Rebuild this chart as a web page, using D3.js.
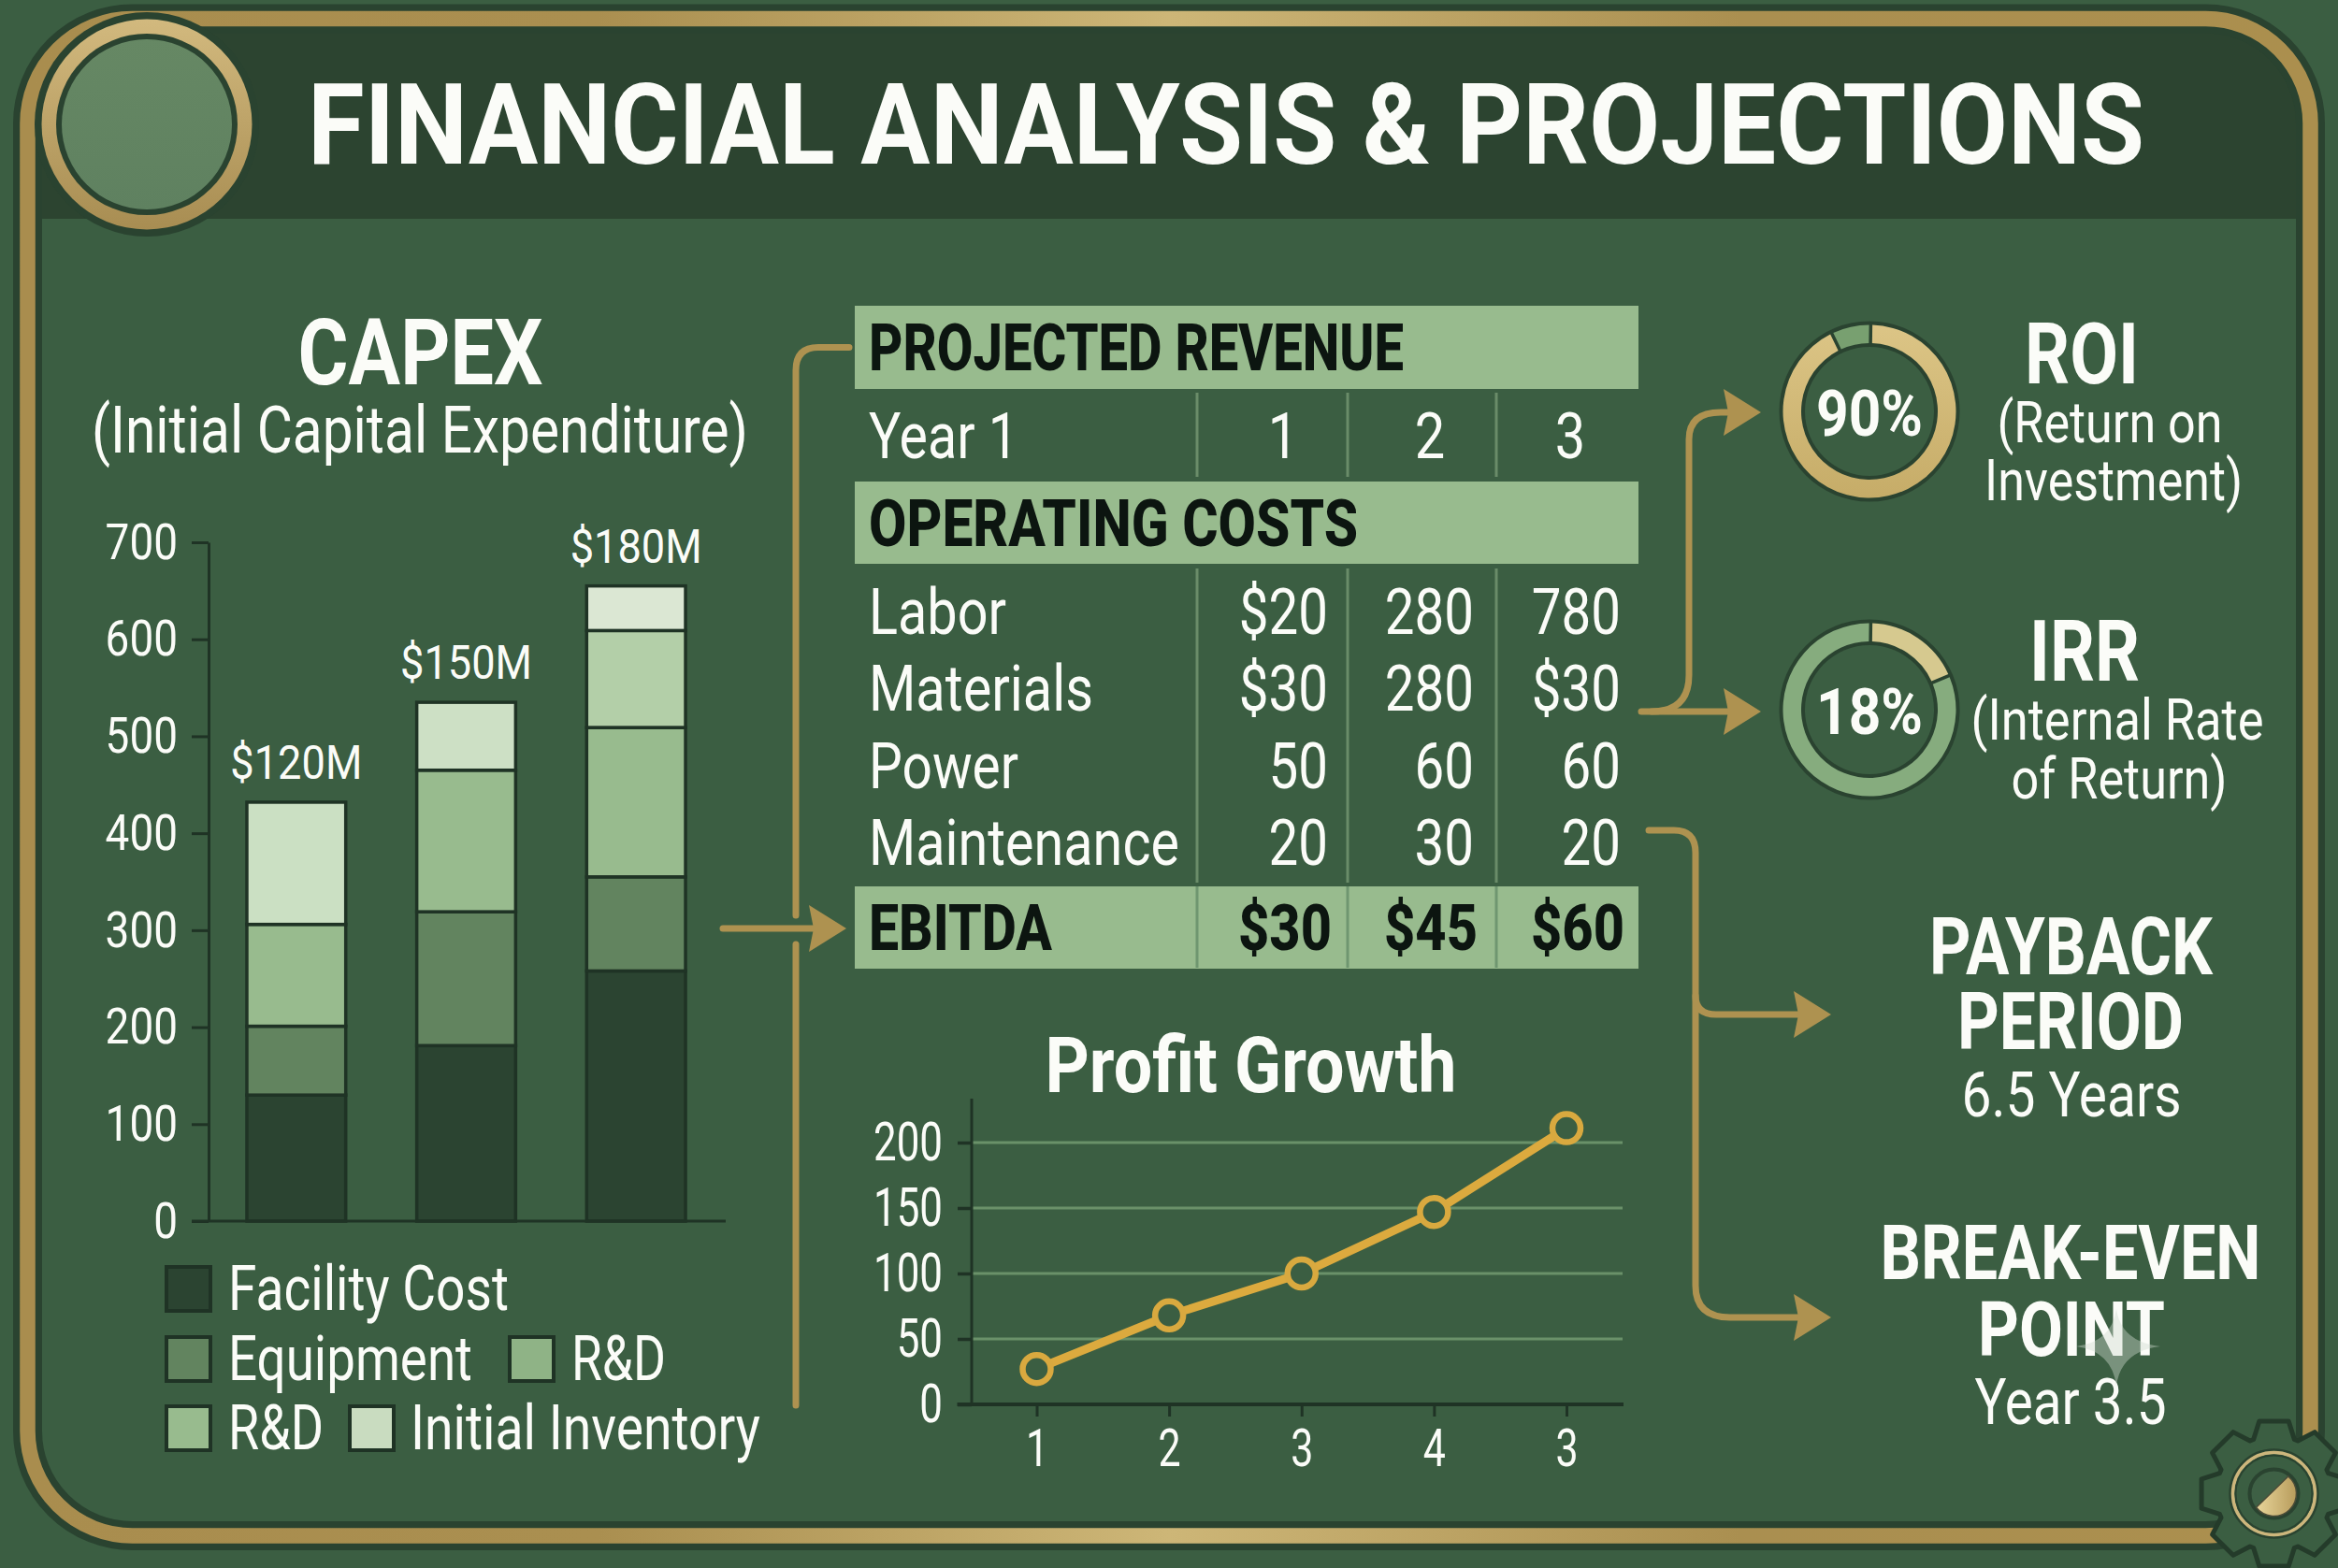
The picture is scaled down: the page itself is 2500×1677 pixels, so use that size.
<!DOCTYPE html>
<html><head><meta charset="utf-8">
<script src="https://cdn.jsdelivr.net/npm/d3@7/dist/d3.min.js"></script>
<style>html,body{margin:0;padding:0;background:#3b5e42}svg{display:block}text{font-family:Roboto,sans-serif}</style>
</head><body><svg id="c" width="2500" height="1677" viewBox="0 0 2500 1677"></svg>
<script>
// ---------- data ----------
const capexYears = ["A", "B", "C"];
const capexTotals = ["$120M", "$150M", "$180M"];
const facilityCost = [130, 181, 258];
const equipment = [71, 138, 97];
const rdFirst = [105, 146, 154];
const rdSecond = [0, 0, 100];
const initialInventory = [126, 70, 46];
const capexTicks = [0, 100, 200, 300, 400, 500, 600, 700];
const legendNames = ["Facility Cost", "Equipment", "R&D", "R&D", "Initial Inventory"];
const yearHeaders = ["1", "2", "3"];
const costRows = ["Labor", "Materials", "Power", "Maintenance"];
const laborValues = ["$20", "280", "780"];
const materialsValues = ["$30", "280", "$30"];
const powerValues = ["50", "60", "60"];
const maintenanceValues = ["20", "30", "20"];
const ebitdaValues = ["$30", "$45", "$60"];
const profitLabels = ["1", "2", "3", "4", "3"];
const profitValues = [27, 68, 100, 147, 211];
const profitTicks = [0, 50, 100, 150, 200];
const roiShares = [93, 7];
const irrShares = [18, 82];

// ---------- colours ----------
const BG = "#3b5e42", HEAD = "#2c4430", EDGE = "#2a4330", GOLD = "#ae9250", INK = "#1f3325", WHITE = "#fbfcf8", BAND = "#98bb8e", BLACK = "#0c1510";
const seriesColors = ["#2b4431", "#62845f", "#98bb8e", "#b3cfa8", "#cde0c5"];

const svg = d3.select("#c");
const defs = svg.append("defs");
function grad(id, stops, x2, y2) {
  const g = defs.append("linearGradient").attr("id", id).attr("x1", 0).attr("y1", 0).attr("x2", x2).attr("y2", y2);
  stops.forEach(([o, c]) => g.append("stop").attr("offset", o).attr("stop-color", c));
}
grad("frameGold", [[0, "#a98d4e"], [.25, "#aa8f50"], [.5, "#cdb677"], [.75, "#aa8f50"], [1, "#ab8f4e"]], 1, 0);
grad("ringGold", [[0, "#d2b97e"], [1, "#a88d52"]], 0, 1);
grad("discGreen", [[0, "#668864"], [1, "#5f8160"]], 0, 1);
grad("roiGold", [[0, "#dcc586"], [1, "#c6ac68"]], 0, 1);
grad("gearGold", [[0, "#e8d59a"], [1, "#b89c5c"]], 1, 0);

// ---------- text helper ----------
function label(parent, str, x, y, size, o = {}) {
  const t = parent.append("text").attr("x", x).attr("y", y).attr("font-size", size)
    .attr("font-weight", o.weight || 400).attr("fill", o.fill || WHITE).attr("text-anchor", o.anchor || "start").text(str);
  if (o.width) t.attr("textLength", o.width).attr("lengthAdjust", "spacingAndGlyphs");
  else if (o.ratio) t.attr("textLength", t.node().getComputedTextLength() * o.ratio).attr("lengthAdjust", "spacingAndGlyphs");
  return t;
}
function squeeze(sel, ratio) {
  sel.each(function () {
    d3.select(this).attr("textLength", this.getComputedTextLength() * ratio).attr("lengthAdjust", "spacingAndGlyphs");
  });
}

// ---------- frame ----------
svg.append("rect").attr("width", 2500).attr("height", 1677).attr("fill", BG);
const frame = { x: 29.5, y: 20, w: 2441, h: 1622.5, r: 112 };
defs.append("clipPath").attr("id", "inside").append("rect").attr("x", frame.x).attr("y", frame.y).attr("width", frame.w).attr("height", frame.h).attr("rx", frame.r);
svg.append("rect").attr("x", 0).attr("y", 0).attr("width", 2500).attr("height", 234).attr("fill", HEAD).attr("clip-path", "url(#inside)");
const frameRect = () => svg.append("rect").attr("x", frame.x).attr("y", frame.y).attr("width", frame.w).attr("height", frame.h).attr("rx", frame.r).attr("fill", "none");
frameRect().attr("stroke", EDGE).attr("stroke-width", 31);
frameRect().attr("stroke", "url(#frameGold)").attr("stroke-width", 16.5);

// header badge
const badge = svg.append("g").attr("transform", "translate(157,133)");
badge.append("circle").attr("r", 120).attr("fill", EDGE);
badge.append("circle").attr("r", 112.5).attr("fill", "url(#ringGold)");
badge.append("circle").attr("r", 97).attr("fill", EDGE);
badge.append("circle").attr("r", 91).attr("fill", "url(#discGreen)");

label(svg, "FINANCIAL ANALYSIS & PROJECTIONS", 329, 175, 121, { weight: 700, width: 1964 });

// ---------- CAPEX ----------
label(svg, "CAPEX", 449.5, 411, 98, { weight: 700, anchor: "middle", width: 262 });
label(svg, "(Initial Capital Expenditure)", 449, 484, 70, { anchor: "middle", width: 702 });

const capexY = d3.scaleLinear().domain([0, 700]).range([1306, 580]);
const capexX = d3.scaleBand().domain(capexYears).range([226, 771]).paddingInner(0.418).paddingOuter(0.209);
const capexRows = capexYears.map((k, i) => ({ k, a: facilityCost[i], b: equipment[i], c: rdFirst[i], d: rdSecond[i], e: initialInventory[i], tag: capexTotals[i] }));
const capexStack = d3.stack().keys(["a", "b", "c", "d", "e"])(capexRows);
const inventoryShades = ["#cbe0c3", "#cde0c5", "#dbe7d3"];

const yAxisG = svg.append("g").attr("transform", "translate(223,0)").call(d3.axisLeft(capexY).tickValues(capexTicks).tickSize(18).tickSizeOuter(0).tickPadding(15));
yAxisG.selectAll("line,path").attr("stroke", INK).attr("stroke-width", 3);
yAxisG.selectAll("text").attr("font-size", 54).attr("fill", WHITE).attr("font-family", "Roboto").call(squeeze, .85);

capexStack.forEach((s, si) => {
  svg.append("g").selectAll("rect").data(s.filter(d => d[1] > d[0])).join("rect")
    .attr("x", d => capexX(d.data.k)).attr("width", capexX.bandwidth())
    .attr("y", d => capexY(d[1])).attr("height", d => capexY(d[0]) - capexY(d[1]))
    .attr("fill", d => si === 4 ? inventoryShades[capexYears.indexOf(d.data.k)] : seriesColors[si])
    .attr("stroke", INK).attr("stroke-width", 3.5);
});
svg.append("line").attr("x1", 205).attr("x2", 776).attr("y1", capexY(0)).attr("y2", capexY(0)).attr("stroke", INK).attr("stroke-width", 3);
capexRows.forEach(r => {
  label(svg, r.tag, capexX(r.k) + capexX.bandwidth() / 2, capexY(r.a + r.b + r.c + r.d + r.e) - 25, 50, { anchor: "middle", width: 141 });
});

// legend
const legendSlots = [
  { sx: 177, tx: 244, y: 1353, w: 300 }, { sx: 177, tx: 244, y: 1428, w: 261 },
  { sx: 544, tx: 611, y: 1428, w: 101 }, { sx: 177, tx: 244, y: 1502, w: 102 }, { sx: 373, tx: 439, y: 1502, w: 374 }];
const legendFills = ["#2b4431", "#62845f", "#8fb386", "#98bb8e", "#c9dcc0"];
legendNames.forEach((n, i) => {
  const s = legendSlots[i];
  svg.append("rect").attr("x", s.sx + 1).attr("y", s.y + 2).attr("width", 47).attr("height", 47).attr("fill", legendFills[i]).attr("stroke", INK).attr("stroke-width", 4);
  label(svg, n, s.tx, s.y + 48, 67, { width: s.w });
});

// ---------- table ----------
const table = svg.append("g");
const bandRow = (y, h) => table.append("rect").attr("x", 914).attr("y", y).attr("width", 838).attr("height", h).attr("fill", BAND);
bandRow(327, 89); bandRow(515, 88); bandRow(948, 88);
const dividerX = [1280, 1441, 1600];
dividerX.forEach(x => {
  [[420, 510], [608, 944]].forEach(([a, b]) => table.append("line").attr("x1", x).attr("x2", x).attr("y1", a).attr("y2", b).attr("stroke", "#6a8c69").attr("stroke-width", 3));
  table.append("line").attr("x1", x).attr("x2", x).attr("y1", 948).attr("y2", 1035).attr("stroke", "#6f9670").attr("stroke-width", 3);
});
label(table, "PROJECTED REVENUE", 929, 396, 70, { weight: 800, fill: BLACK, width: 572 });
label(table, "OPERATING COSTS", 929, 584, 70, { weight: 800, fill: BLACK, width: 523 });
label(table, "Year 1", 929, 490, 68, { width: 160 });
const yearCenters = [1372, 1529, 1679];
yearHeaders.forEach((v, i) => label(table, v, yearCenters[i], 490, 68, { anchor: "middle", ratio: .85 }));
const rowY = d3.scalePoint().domain(costRows).range([678, 925]);
const rowWidths = [147, 240, 160, 332];
const valueRight = [1420, 1576, 1733];
[laborValues, materialsValues, powerValues, maintenanceValues].forEach((vals, r) => {
  label(table, costRows[r], 929, rowY(costRows[r]), 68, { width: rowWidths[r] });
  vals.forEach((v, c) => label(table, v, valueRight[c], rowY(costRows[r]), 68, { anchor: "end", ratio: .83 }));
});
label(table, "EBITDA", 929, 1016, 68, { weight: 800, fill: BLACK, width: 196 });
ebitdaValues.forEach((v, c) => label(table, v, valueRight[c] + 4, 1016, 68, { weight: 800, fill: BLACK, anchor: "end", ratio: .85 }));

// ---------- connectors ----------
const conn = svg.append("g").attr("fill", "none").attr("stroke", GOLD).attr("stroke-width", 7).attr("stroke-linecap", "round");
const head = (tip, y) => svg.append("path").attr("fill", GOLD)
  .attr("d", (() => { const p = d3.path(); p.moveTo(tip, y); p.lineTo(tip - 40, y - 25); p.lineTo(tip - 35, y); p.lineTo(tip - 40, y + 25); p.closePath(); return p; })());
function stroke(build) { const p = d3.path(); build(p); conn.append("path").attr("d", p); }
// left bracket
stroke(p => { p.moveTo(908, 371.5); p.lineTo(875, 371.5); p.quadraticCurveTo(851, 371.5, 851, 396); p.lineTo(851, 979); });
stroke(p => { p.moveTo(851, 1010); p.lineTo(851, 1503); });
stroke(p => { p.moveTo(773, 993); p.lineTo(880, 993); });
head(905, 993);
// to ROI / IRR
stroke(p => { p.moveTo(1755, 761); p.lineTo(1860, 761); });
stroke(p => { p.moveTo(1766, 761); p.quadraticCurveTo(1806, 761, 1806, 722); p.lineTo(1806, 470); p.quadraticCurveTo(1806, 441, 1840, 441); p.lineTo(1860, 441); });
head(1883, 441); head(1883, 761);
// to payback / break-even
stroke(p => { p.moveTo(1763, 888); p.lineTo(1790, 888); p.quadraticCurveTo(1813, 888, 1813, 912); p.lineTo(1813, 1375); p.quadraticCurveTo(1813, 1409, 1850, 1409); p.lineTo(1935, 1409); });
stroke(p => { p.moveTo(1813, 1065); p.quadraticCurveTo(1813, 1085, 1835, 1085); p.lineTo(1935, 1085); });
head(1958, 1085); head(1958, 1409);

// ---------- profit growth ----------
label(svg, "Profit Growth", 1337.5, 1168, 84, { weight: 700, anchor: "middle", width: 440 });
const profitY = d3.scaleLinear().domain([0, 200]).range([1502, 1222]);
const profitX = d3.scalePoint().domain(d3.range(profitValues.length)).range([1108.5, 1675]);
const gridG = svg.append("g");
profitTicks.filter(t => t > 0).forEach(t => gridG.append("line").attr("x1", 1039).attr("x2", 1735).attr("y1", profitY(t)).attr("y2", profitY(t)).attr("stroke", "#6a9169").attr("stroke-width", 3));
const py = svg.append("g").attr("transform", "translate(1039,0)").call(d3.axisLeft(profitY).tickValues(profitTicks).tickSize(15).tickSizeOuter(0).tickPadding(16));
py.selectAll("line").attr("stroke", INK).attr("stroke-width", 3.5);
py.select("path").remove();
py.selectAll("text").attr("font-size", 57).attr("fill", WHITE).call(squeeze, .77);
svg.append("line").attr("x1", 1039).attr("x2", 1039).attr("y1", 1175).attr("y2", 1502).attr("stroke", INK).attr("stroke-width", 3);
const px = svg.append("g").attr("transform", "translate(0,1502)").call(d3.axisBottom(profitX).tickFormat(i => profitLabels[i]).tickSize(13).tickSizeOuter(0).tickPadding(14));
px.selectAll("line").attr("stroke", INK).attr("stroke-width", 3);
px.select("path").remove();
px.selectAll("text").attr("font-size", 55).attr("fill", WHITE).call(squeeze, .78);
svg.append("line").attr("x1", 1023.5).attr("x2", 1736).attr("y1", 1502).attr("y2", 1502).attr("stroke", INK).attr("stroke-width", 4);
const profitLine = d3.line().x((d, i) => profitX(i)).y(d => profitY(d));
svg.append("path").attr("d", profitLine(profitValues)).attr("fill", "none").attr("stroke", "#dcaa3e").attr("stroke-width", 9);
svg.append("g").selectAll("circle").data(profitValues).join("circle")
  .attr("cx", (d, i) => profitX(i)).attr("cy", d => profitY(d)).attr("r", 15)
  .attr("fill", BG).attr("stroke", "#d9a93f").attr("stroke-width", 6.5);

// ---------- donuts ----------
const pie = d3.pie().sort(null).padAngle(0.03).startAngle(0.015).endAngle(2 * Math.PI + 0.015);
const arc = d3.arc().innerRadius(73).outerRadius(92.5);
function donut(cx, cy, shares, fills, txt) {
  const g = svg.append("g").attr("transform", `translate(${cx},${cy})`);
  g.append("circle").attr("r", 96.5).attr("fill", EDGE);
  g.selectAll("path").data(pie(shares)).join("path").attr("d", arc).attr("fill", (d, i) => fills[i]);
  g.append("circle").attr("r", 69).attr("fill", BG);
  label(g, txt, 0, 26, 69, { weight: 700, anchor: "middle", width: 114 });
}
donut(1999, 440, roiShares, ["url(#roiGold)", "#78a070"], "90%");
donut(1999, 759, irrShares, ["#d6c98f", "#86ac7e"], "18%");

label(svg, "ROI", 2226, 410, 90, { weight: 700, anchor: "middle", width: 122 });
label(svg, "(Return on", 2256, 473, 62, { anchor: "middle", width: 241 });
label(svg, "Investment)", 2260, 535, 62, { anchor: "middle", width: 276 });
label(svg, "IRR", 2229, 728, 90, { weight: 700, anchor: "middle", width: 118 });
label(svg, "(Internal Rate", 2264, 791, 62, { anchor: "middle", width: 313 });
label(svg, "of Return)", 2266, 854, 62, { anchor: "middle", width: 231 });

label(svg, "PAYBACK", 2214.5, 1042, 86, { weight: 700, anchor: "middle", width: 303 });
label(svg, "PERIOD", 2214, 1122, 86, { weight: 700, anchor: "middle", width: 242 });
label(svg, "6.5 Years", 2215, 1194, 66, { anchor: "middle", width: 235 });
label(svg, "BREAK-EVEN", 2214, 1368, 82, { weight: 700, anchor: "middle", width: 407 });
label(svg, "POINT", 2215, 1450, 82, { weight: 700, anchor: "middle", width: 200 });
label(svg, "Year 3.5", 2214, 1523, 68, { anchor: "middle", width: 205 });

// sparkle
const spark = d3.path();
spark.moveTo(2263, 1400); spark.quadraticCurveTo(2268, 1435, 2310, 1440); spark.quadraticCurveTo(2268, 1445, 2263, 1482);
spark.quadraticCurveTo(2258, 1445, 2220, 1440); spark.quadraticCurveTo(2258, 1435, 2263, 1400); spark.closePath();
svg.append("path").attr("d", spark).attr("fill", "#cfdccf").attr("opacity", .42);

// ---------- gear ----------
const gear = svg.append("g").attr("transform", "translate(2431.5,1597.5)");
const gearPts = [];
d3.range(8).forEach(i => {
  const a = i * Math.PI / 4;
  [[-0.36, 62], [-0.2, 79], [0.2, 79], [0.36, 62]].forEach(([d, r]) => gearPts.push([a + d, r]));
});
gear.append("path").attr("d", d3.lineRadial().curve(d3.curveLinearClosed)(gearPts)).attr("fill", BG).attr("stroke", "#243b2a").attr("stroke-width", 5).attr("stroke-linejoin", "round");
gear.append("circle").attr("r", 47).attr("fill", "none").attr("stroke", EDGE).attr("stroke-width", 2.5);
gear.append("circle").attr("r", 44).attr("fill", "none").attr("stroke", "#cdb67c").attr("stroke-width", 3.5);
gear.append("circle").attr("r", 41).attr("fill", "none").attr("stroke", EDGE).attr("stroke-width", 2);
gear.append("circle").attr("r", 26).attr("fill", "#3e6045").attr("stroke", EDGE).attr("stroke-width", 4);
const seg = d3.path();
seg.arc(0, 0, 24, -0.88, 2.48);
seg.closePath();
gear.append("path").attr("d", seg).attr("fill", "url(#gearGold)").attr("stroke", "#4c4c38").attr("stroke-width", 1.5);
</script></body></html>
